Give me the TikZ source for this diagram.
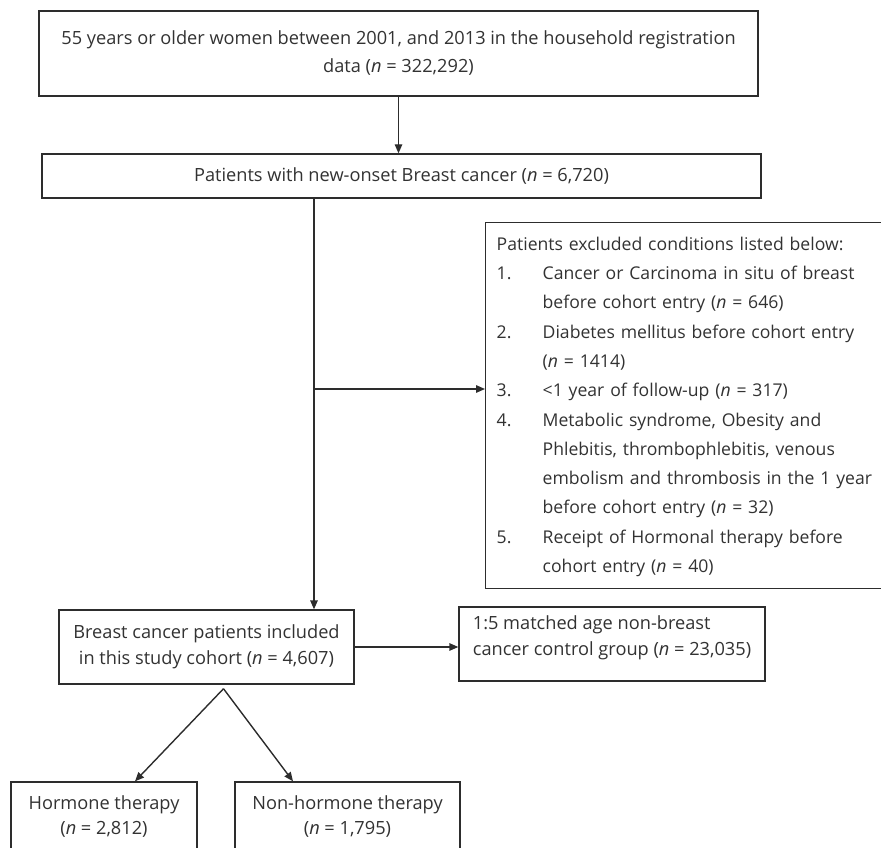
\documentclass[tikz,border=0pt]{standalone}
\usepackage{fontspec}
\setmainfont{Open Sans}
\usetikzlibrary{positioning, arrows.meta, calc}

\definecolor{FlowLine}{RGB}{45,45,45}
\definecolor{FlowText}{RGB}{50,50,50}
\newcommand{\nn}{\textit{n}}

\begin{document}
\begin{tikzpicture}[
  x=1pt, y=-1pt,
  box/.style={rectangle, draw=FlowLine, line width=1.4pt, text=FlowText, align=center, inner sep=0pt, font=\fontsize{18.2}{28}\selectfont},
  exclbox/.style={rectangle, draw=FlowLine, line width=1.4pt, text=FlowText, align=left, anchor=north west, inner xsep=11pt, inner ysep=7pt, text width=390pt, font=\fontsize{17.6}{29.3}\selectfont},
  arrow/.style={-{Triangle[length=9pt, width=7.5pt]}, line width=1.4pt, FlowLine},
  link/.style={line width=1.4pt, FlowLine}
]
\useasboundingbox (0,0) rectangle (881,848);

% Row 1: source population
\node[box, minimum width=719pt, minimum height=85pt] (source) at (398.5,53.5) {55 years or older women between 2001, and 2013 in the household registration\\data (\nn{} = 322,292)};

% Row 2: new-onset cases
\node[box, minimum width=719pt, minimum height=44pt] (onset) at (401.5,176) {Patients with new-onset Breast cancer (\nn{} = 6,720)};

% Exclusions
\node[exclbox] (excluded) at (485,222) {%
\begin{tabular}{@{}p{46pt}@{}l@{}}
\multicolumn{2}{@{}l@{}}{Patients excluded conditions listed below:}\\
1. & Cancer or Carcinoma in situ of breast\\
   & before cohort entry (\nn{} = 646)\\
2. & Diabetes mellitus before cohort entry\\
   & (\nn{} = 1414)\\
3. & <1 year of follow-up (\nn{} = 317)\\
4. & Metabolic syndrome, Obesity and\\
   & Phlebitis, thrombophlebitis, venous\\
   & embolism and thrombosis in the 1 year\\
   & before cohort entry (\nn{} = 32)\\
5. & Receipt of Hormonal therapy before\\
   & cohort entry (\nn{} = 40)
\end{tabular}};

% Row 3: study cohort + controls
\node[box, minimum width=295pt, minimum height=74pt, font=\fontsize{18.2}{26}\selectfont] (cohort) at (206.5,647) {Breast cancer patients included\\in this study cohort (\nn{} = 4,607)};
\node[box, minimum width=306pt, minimum height=74pt, align=left, text depth=16pt, font=\fontsize{18.2}{26}\selectfont] (control) at (612,644) {1:5 matched age non-breast\\cancer control group (\nn{} = 23,035)};

% Row 4: therapy groups
\node[box, minimum width=186pt, minimum height=70pt, font=\fontsize{18.2}{25}\selectfont] (hormone) at (104,817) {Hormone therapy\\(\nn{} = 2,812)};
\node[box, minimum width=225pt, minimum height=70pt, font=\fontsize{18.2}{25}\selectfont] (nonhormone) at (347.5,817) {Non-hormone therapy\\(\nn{} = 1,795)};

% Arrows
\coordinate (split) at (314,389);
\coordinate (fork) at ([xshift=17pt, yshift=-4pt]cohort.south);
\draw[arrow] (source.south) -- (source.south |- onset.north);
\draw[arrow] (onset.south -| split) -- (cohort.north -| split);
\draw[arrow] (split) -- (split -| excluded.west);
\draw[arrow] (cohort.east) -- (cohort.east -| control.west);
\draw[arrow] (fork) -- ([xshift=31pt]hormone.north);
\draw[arrow] (fork) -- ([xshift=-54.5pt]nonhormone.north);

\end{tikzpicture}
\end{document}
